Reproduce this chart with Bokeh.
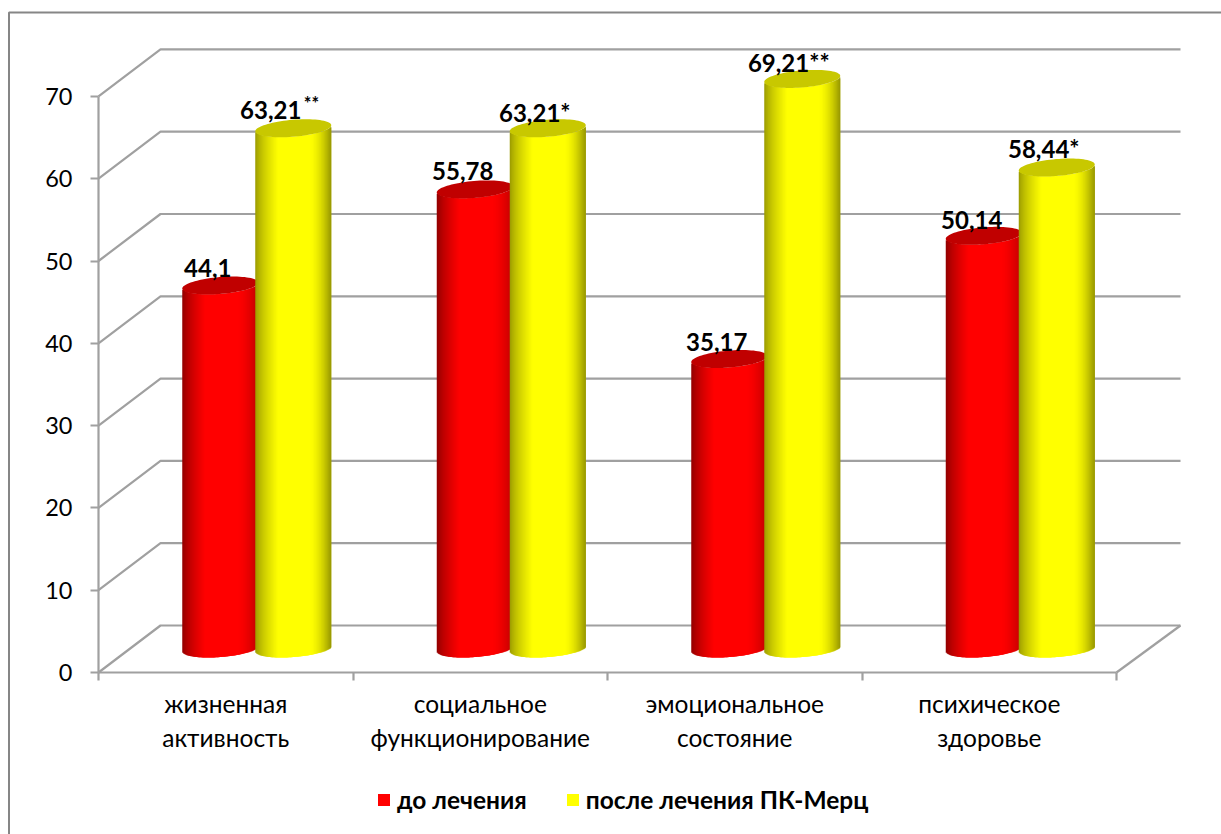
import numpy as np
from bokeh.core.properties import value
from bokeh.embed import file_html
from bokeh.models import FixedTicker, Legend, LegendItem, LinearAxis, Range1d
from bokeh.plotting import figure
from bokeh.resources import INLINE

# --- chart data ---
categories = ["жизненная\nактивность", "социальное\nфункционирование",
              "эмоциональное\nсостояние", "психическое\nздоровье"]
before = [44.1, 55.78, 35.17, 50.14]
after = [63.21, 63.21, 69.21, 58.44]
before_labels = ["44,1", "55,78", "35,17", "50,14"]
after_labels = ["63,21", "63,21*", "69,21**", "58,44*"]
y_ticks = [0, 10, 20, 30, 40, 50, 60, 70]
series_names = ["до лечения", "после лечения ПК-Мерц"]

# --- canvas geometry ---
W, H = 1221, 834
LEFT, ZERO_Y = 98, 672           # corner of the front floor edge
CAT_W = 254.5                    # pixels per category
PX_PER_UNIT = 8.23               # pixels per value unit
DEPTH_X, DEPTH_Y = 63, 47        # projection of the chart depth
RADIUS, TILT, MINOR = 38, 3, 8.5 # cylinder cap shape

def dx(px):
    return px / CAT_W

def dy(px):
    return px / PX_PER_UNIT

def X(px):
    return (px - LEFT) / CAT_W

def Y(px):
    return (ZERO_Y - px) / PX_PER_UNIT

p = figure(width=W, height=H, output_backend="svg", toolbar_location=None,
           x_range=Range1d(X(0), X(W)), y_range=Range1d(Y(H), Y(0)),
           x_axis_type=None, y_axis_type=None, min_border=0,
           outline_line_color=None, background_fill_color="white", border_fill_color="white")
p.grid.visible = False

GREY = "#a0a0a0"

# outer frame of the chart area (runs off the page on the right and bottom)
p.line([X(8.5), X(8.5), X(W + 5)], [Y(H + 5), Y(12), Y(12)], line_color="#868686", line_width=2)

# back wall gridlines with their side-wall diagonals
n_cat = len(categories)
wall_xs, wall_ys = [], []
for t in y_ticks:
    wall_xs.append([0, dx(DEPTH_X - 1), n_cat + dx(DEPTH_X + 1)])
    wall_ys.append([t, t + dy(DEPTH_Y), t + dy(DEPTH_Y)])
wall_xs.append([n_cat, n_cat + dx(DEPTH_X + 1)])
wall_ys.append([0, dy(DEPTH_Y)])
p.multi_line(wall_xs, wall_ys, line_color=GREY, line_width=2.2)

def shade(t, base, edge_l, edge_r):
    """Horizontal cylinder shading: t runs 0..1 from the left to the right edge."""
    base, edge_l, edge_r = map(np.array, (base, edge_l, edge_r))
    if t < 0.3:
        c = edge_l + (base - edge_l) * (t / 0.3) ** 0.7
    elif t > 0.72:
        c = base + (edge_r - base) * ((t - 0.72) / 0.28) ** 1.6
    else:
        c = base
    return "#%02x%02x%02x" % tuple(int(round(v)) for v in c)

def cylinders(values, centers_px, base, edge_l, edge_r, cap):
    mid = dy(DEPTH_Y / 2 + 0.5)
    left, right, top, bottom, colors = [], [], [], [], []
    caps_x, caps_y = [], []
    angles = np.linspace(0, 2 * np.pi, 80)
    for v, cx in zip(values, centers_px):
        for off in np.arange(-RADIUS, RADIUS):
            m = (off + 0.5) / RADIUS
            drop = -TILT * m + MINOR * np.sqrt(1 - m * m)
            left.append(X(cx + off))
            # strips overlap the next one so no background shows through their seams
            right.append(X(min(cx + off + 2.5, cx + RADIUS)))
            top.append(v + mid - dy(drop))
            bottom.append(mid - dy(drop))
            colors.append(shade((off + RADIUS + 0.5) / (2 * RADIUS), base, edge_l, edge_r))
        caps_x.append(X(cx) + dx(RADIUS) * np.cos(angles))
        caps_y.append(v + mid + dy(TILT) * np.cos(angles) - dy(MINOR) * np.sin(angles))
    p.quad(left=left, right=right, top=top, bottom=bottom, fill_color=colors, line_color=None)
    p.patches(caps_x, caps_y, fill_color=cap, line_color=None)

group_px = [LEFT + CAT_W * (i + 0.5) + DEPTH_X / 2 for i in range(n_cat)]
red_cx = [g - 37 for g in group_px]
yellow_cx = [g + 36 for g in group_px]

cylinders(before, red_cx, (255, 0, 0), (140, 0, 0), (190, 0, 0), "#c00000")
cylinders(after, yellow_cx, (255, 255, 0), (150, 150, 0), (150, 150, 0), "#c8c800")

# value labels sit just above each cap, shifted left of the cylinder centre
LABEL_FONT = value("Lato")
before_shift = [-12.5, -12, -12.5, -12]
after_shift = [-22.5, -13, -13.5, -13]
before_lift = [18, 18, 17, 16]
after_lift = [18, 16, 16, 19]
mid_units = dy(DEPTH_Y / 2 + 0.5)
p.text([X(c + s) for c, s in zip(red_cx, before_shift)],
       [v + mid_units + dy(l) for v, l in zip(before, before_lift)], text=before_labels,
       text_font=LABEL_FONT, text_font_style="bold", text_font_size="24px",
       text_align="center", text_baseline="middle", text_color="black")
p.text([X(c + s) for c, s in zip(yellow_cx, after_shift)],
       [v + mid_units + dy(l) for v, l in zip(after, after_lift)], text=after_labels,
       text_font=LABEL_FONT, text_font_style="bold", text_font_size="24px",
       text_align="center", text_baseline="middle", text_color="black")
# the small raised asterisks beside the first "after" value
p.text([X(311)], [after[0] + mid_units + dy(25)], text=["**"],
       text_font=LABEL_FONT, text_font_style="bold", text_font_size="18px",
       text_align="center", text_baseline="middle", text_color="black")

# value axis, fixed at the front-left corner
yaxis = LinearAxis(fixed_location=0, ticker=FixedTicker(ticks=y_ticks), bounds=(0, 70),
                   axis_line_color=GREY, axis_line_width=2.2,
                   major_tick_line_color=GREY, major_tick_line_width=2.2,
                   major_tick_out=8, major_tick_in=0, minor_tick_out=0, minor_tick_in=0,
                   major_label_text_font="Lato", major_label_text_font_size="23.5px",
                   major_label_text_color="black", major_label_standoff=18)
p.add_layout(yaxis, "left")

# category axis: one axis carries the boundary ticks, another the centred labels
boundaries = list(range(n_cat + 1))
xticks = LinearAxis(fixed_location=0, ticker=FixedTicker(ticks=boundaries),
                    bounds=(0, n_cat),
                    major_label_overrides={b: "" for b in boundaries},
                    axis_line_color=GREY, axis_line_width=2.2,
                    major_tick_line_color=GREY, major_tick_line_width=2.2,
                    major_tick_out=8, major_tick_in=0, minor_tick_out=0, minor_tick_in=0)
p.add_layout(xticks, "below")

label_pos = [i + 0.5 for i in range(n_cat)]
xlabels = LinearAxis(fixed_location=0, ticker=FixedTicker(ticks=label_pos),
                     major_label_overrides=dict(zip(label_pos, categories)),
                     axis_line_color=None, major_tick_line_color=None, minor_tick_line_color=None,
                     major_tick_out=0, major_tick_in=0, minor_tick_out=0, minor_tick_in=0,
                     major_label_text_font="Lato", major_label_text_font_size="24.5px",
                     major_label_text_color="black", major_label_text_line_height=1.2,
                     major_label_standoff=16)
p.add_layout(xlabels, "below")

# legend keys: zero-sized quads that only lend the legend their colours
r1 = p.quad(left=[0], right=[0], top=[0], bottom=[0], fill_color="#ff0000", line_color=None)
r2 = p.quad(left=[0], right=[0], top=[0], bottom=[0], fill_color="#ffff00", line_color=None)
legend = Legend(items=[LegendItem(label=series_names[0], renderers=[r1]),
                       LegendItem(label=series_names[1], renderers=[r2])],
                orientation="horizontal", location=(376, 20),
                background_fill_alpha=0, border_line_color=None,
                glyph_width=15, glyph_height=15, label_standoff=6, spacing=38,
                padding=5, margin=0,
                label_text_font="Lato", label_text_font_style="bold",
                label_text_font_size="24.5px", label_text_color="black")
p.add_layout(legend, "center")

open("out.html", "w").write(file_html(p, INLINE))
